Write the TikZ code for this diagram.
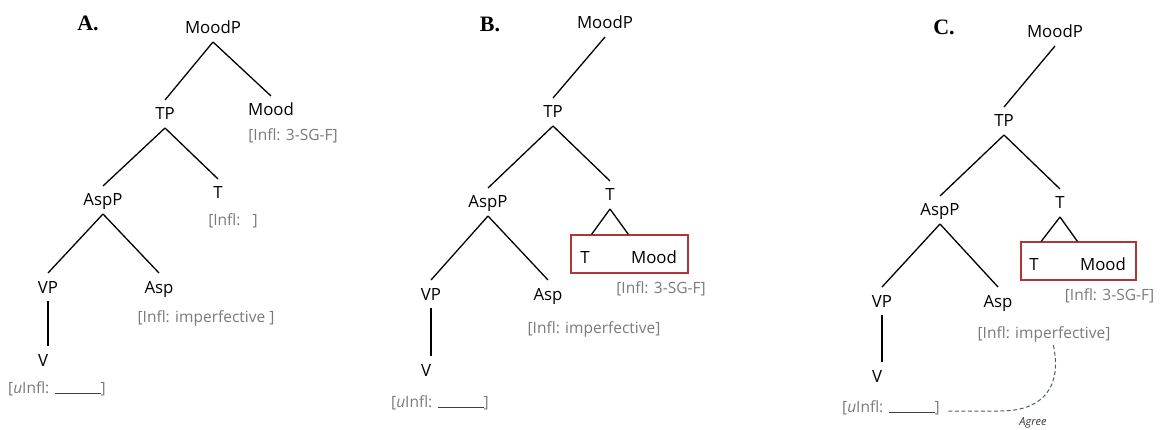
\documentclass[tikz,border=0pt]{standalone}
\usepackage{fontspec}
\setmainfont{Open Sans}
\newfontfamily\letterfont{Liberation Serif}
\usetikzlibrary{fit,calc}
\definecolor{featgray}{HTML}{7A7A7A}
\definecolor{boxred}{HTML}{B03535}
\definecolor{agreecol}{HTML}{4F5F6B}
\newcommand{\blankline}{\textcolor{black!75}{\rule[-1pt]{46pt}{0.8pt}}}
\begin{document}
\begin{tikzpicture}[x=1pt,y=-1pt,
  lab/.style={font=\fontsize{16.8}{18}\selectfont, inner sep=0pt, text height=12pt, text depth=0pt, outer ysep=8pt},
  feat/.style={font=\fontsize{15.5}{18}\selectfont, text=featgray, inner sep=0pt, text height=11pt, text depth=3pt},
  letter/.style={font=\letterfont\bfseries\fontsize{22}{24}\selectfont, inner sep=0pt},
  edge/.style={line width=1.3pt, black},
  redbox/.style={draw=boxred, line width=1.4pt, inner sep=0pt},
  agree/.style={agreecol, dash pattern=on 4pt off 2.5pt, line width=1pt},
  agreelab/.style={font=\itshape\fontsize{11}{12}\selectfont, text=black!80, inner sep=0pt}]
\useasboundingbox (0,0) rectangle (1161,430);

% ---------- Panel A ----------
\node[letter] (A-letter) at (88,23) {A.};
\node[lab] (A-MoodP) at (213,28) {MoodP};
\node[lab] (A-TP) at (165,114) {TP};
\node[lab] (A-Mood) at (271,110) {Mood};
\node[feat] (A-fMood) at (293,137) {[Infl: 3-SG-F]};
\node[lab] (A-AspP) at (103,200) {AspP};
\node[lab] (A-T) at (218,193) {T};
\node[feat] (A-fT) at (233,222) {[Infl:\ \ \ ]};
\node[lab] (A-VP) at (48,287) {VP};
\node[lab] (A-Asp) at (159,287) {Asp};
\node[feat] (A-fAsp) at (206,318) {[Infl: imperfective ]};
\node[lab] (A-V) at (43,360) {V};
\node[feat] (A-fV) at (57,389) {[\textit{u}Infl: \blankline]};
\draw[edge] (A-MoodP.south) -- (A-TP.north);
\draw[edge] (A-MoodP.south) -- (A-Mood.north);
\draw[edge] (A-TP.south) -- (A-AspP.north);
\draw[edge] (A-TP.south) -- (A-T.north);
\draw[edge] (A-AspP.south) -- (A-VP.north);
\draw[edge] (A-AspP.south) -- (A-Asp.north);
\draw[edge] (A-VP.south) -- (A-VP.south |- A-V.north);

% ---------- Panel B ----------
\node[letter] (B-letter) at (490,24) {B.};
\node[lab] (B-MoodP) at (605,23) {MoodP};
\node[lab] (B-TP) at (553,112) {TP};
\node[lab] (B-AspP) at (488,202) {AspP};
\node[lab] (B-T) at (610,195) {T};
\node[lab] (B-VP) at (431,294) {VP};
\node[lab] (B-Asp) at (548,294) {Asp};
\node[feat] (B-fAsp) at (594,329) {[Infl: imperfective]};
\node[lab] (B-V) at (426,370) {V};
\node[feat] (B-fV) at (440,403) {[\textit{u}Infl: \blankline]};
\node[lab] (B-Tin) at (585,257) {T};
\node[lab] (B-Moodin) at (654,257) {Mood};
\node[redbox, minimum width=117pt, minimum height=38pt] (B-box) at (629.5,254) {};
\node[feat] (B-fMood) at (661,289) {[Infl: 3-SG-F]};
\draw[edge] (B-MoodP.south) -- (B-TP.north);
\draw[edge] (B-TP.south) -- (B-AspP.north);
\draw[edge] (B-TP.south) -- (B-T.north);
\draw[edge] (B-AspP.south) -- (B-VP.north);
\draw[edge] (B-AspP.south) -- (B-Asp.north);
\draw[edge] (B-VP.south) -- (B-VP.south |- B-V.north);
\draw[edge] (B-T.south) -- ($(B-box.north west)!0.18!(B-box.north east)$);
\draw[edge] (B-T.south) -- ($(B-box.north west)!0.49!(B-box.north east)$);

% ---------- Panel C ----------
\node[letter] (C-letter) at (944,27) {C.};
\node[lab] (C-MoodP) at (1055,32) {MoodP};
\node[lab] (C-TP) at (1004,121) {TP};
\node[lab] (C-AspP) at (940,210) {AspP};
\node[lab] (C-T) at (1060,203) {T};
\node[lab] (C-VP) at (882,301) {VP};
\node[lab] (C-Asp) at (998,301) {Asp};
\node[feat] (C-fAsp) at (1044,334) {[Infl: imperfective]};
\node[lab] (C-V) at (877,376) {V};
\node[feat] (C-fV) at (891,408) {[\textit{u}Infl: \blankline]};
\node[lab] (C-Tin) at (1034,264) {T};
\node[lab] (C-Moodin) at (1103,264) {Mood};
\node[redbox, minimum width=115pt, minimum height=38pt] (C-box) at (1078.5,261) {};
\node[feat] (C-fMood) at (1109.5,296) {[Infl: 3-SG-F]};
\node[agreelab] (C-agree) at (1033,423) {Agree};
\draw[edge] (C-MoodP.south) -- (C-TP.north);
\draw[edge] (C-TP.south) -- (C-AspP.north);
\draw[edge] (C-TP.south) -- (C-T.north);
\draw[edge] (C-AspP.south) -- (C-VP.north);
\draw[edge] (C-AspP.south) -- (C-Asp.north);
\draw[edge] (C-VP.south) -- (C-VP.south |- C-V.north);
\draw[edge] (C-T.south) -- ($(C-box.north west)!0.18!(C-box.north east)$);
\draw[edge] (C-T.south) -- ($(C-box.north west)!0.49!(C-box.north east)$);
\coordinate (C-agstart) at ($(C-fAsp.south west)!0.57!(C-fAsp.south east)+(0,4)$);
\coordinate (C-agend) at ($(C-fV.east)+(6,3)$);
\draw[agree] (C-agstart) .. controls (1062,385) and (1045,411) .. (1000,411) -- (C-agend);
\end{tikzpicture}
\end{document}
